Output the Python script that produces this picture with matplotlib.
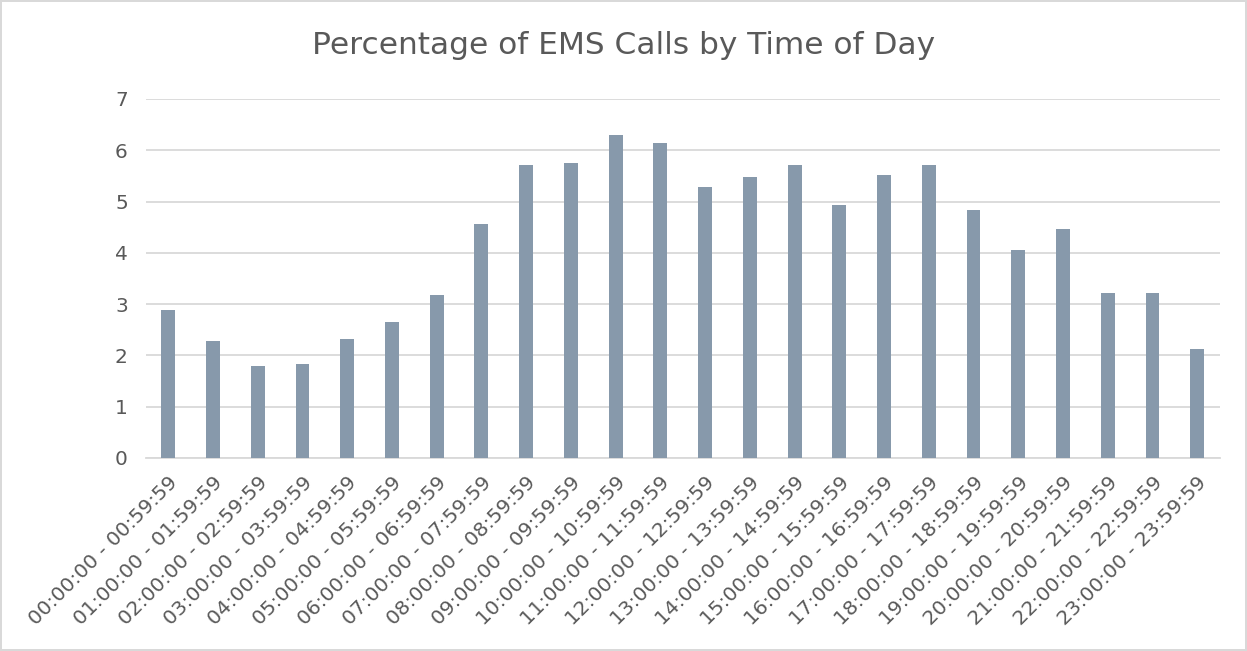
import matplotlib
matplotlib.use("Agg")
from matplotlib import pyplot as plt

# hour ranges and share of EMS calls (%)
hours = ["%02d:00:00 - %02d:59:59" % (h, h) for h in range(24)]
pct = [2.88, 2.28, 1.79, 1.83, 2.32, 2.65, 3.18, 4.56, 5.71, 5.75, 6.30, 6.14,
       5.28, 5.48, 5.71, 4.93, 5.52, 5.71, 4.84, 4.06, 4.46, 3.22, 3.22, 2.13]

text_col = "#595959"
grid_col = "#D9D9D9"

fig = plt.figure(figsize=(12.47, 6.51), dpi=100)
fig.patch.set_edgecolor(grid_col)
fig.patch.set_linewidth(1.5)
ax = fig.add_axes([0.117, 0.2965, 0.861, 0.5515])

ax.bar(range(len(hours)), pct, width=0.31, color="#8799AB", zorder=3)

ax.set_ylim(0, 7)
ax.set_xlim(-0.5, len(hours) - 0.5)
ax.set_yticks(range(8))
ax.yaxis.grid(True, color=grid_col, linewidth=1.3, zorder=0)
for s in ["top", "right", "left"]:
    ax.spines[s].set_visible(False)
ax.spines["bottom"].set_color(grid_col)
ax.spines["bottom"].set_linewidth(1.3)
ax.tick_params(axis="both", length=0, colors=text_col, labelsize=14.5)
ax.tick_params(axis="y", pad=13)

ax.set_xticks(range(len(hours)))
ax.set_xticklabels(hours, rotation=45, ha="right", va="top", rotation_mode="anchor")
ax.tick_params(axis="x", pad=11)

fig.text(0.5, 0.93, "Percentage of EMS Calls by Time of Day", ha="center", va="center",
         fontsize=22.5, color=text_col)

fig.savefig("out.png", dpi=100)
